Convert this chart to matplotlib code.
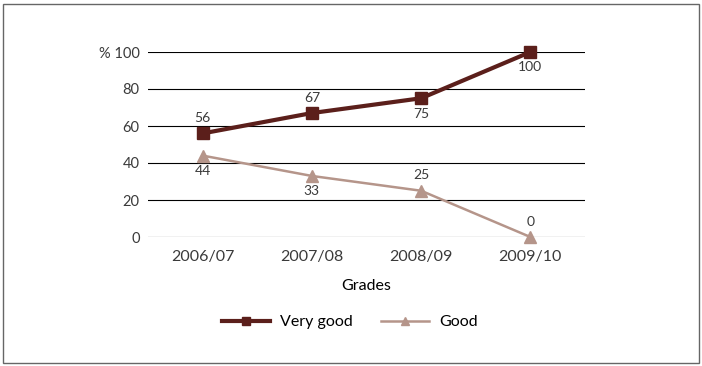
import matplotlib.pyplot as plt
from matplotlib.patches import Rectangle

# data
years = ["2006/07", "2007/08", "2008/09", "2009/10"]
very_good = [56, 67, 75, 100]
good = [44, 33, 25, 0]
# label placement: +1 above, -1 below
vg_pos = [1, 1, -1, -1]
g_pos = [-1, -1, 1, 1]

dark = "#5b1f1b"
light = "#b5958a"
txt = "#3a3a3a"

plt.rcParams['font.family'] = ['Lato', 'DejaVu Sans']

fig = plt.figure(figsize=(7.02, 3.66), dpi=100)
ax = fig.add_axes([148/702, 1-237/366, (585-148)/702, (237-52)/366])

x = list(range(len(years)))
ax.plot(x, very_good, color=dark, lw=3, marker='s', ms=8, label="Very good", clip_on=False, zorder=4)
ax.plot(x, good, color=light, lw=1.8, marker='^', ms=8, label="Good", clip_on=False, zorder=3)

for i in x:
    ax.annotate(str(very_good[i]), (i, very_good[i]), xytext=(0, 11*vg_pos[i]), textcoords='offset points',
                ha='center', va='center', fontsize=10, color=txt)
    ax.annotate(str(good[i]), (i, good[i]), xytext=(0, 11*g_pos[i]), textcoords='offset points',
                ha='center', va='center', fontsize=10, color=txt)

ax.set_xlim(-0.5, 3.5)
ax.set_ylim(0, 100)
ax.set_yticks([0, 20, 40, 60, 80, 100])
ax.set_yticklabels(["0", "20", "40", "60", "80", "% 100"])
ax.set_xticks(x)
ax.set_xticklabels(years)
ax.tick_params(length=0, labelsize=10.5, colors=txt, pad=6)
ax.tick_params(axis='x', labelsize=11.5, pad=9)
ax.grid(axis='y', color='black', lw=0.8)
ax.set_axisbelow(True)
for s in ax.spines.values():
    s.set_visible(False)
ax.set_xlabel("Grades", fontsize=11.5, color='black', labelpad=11)

ax.legend(loc='center', bbox_to_anchor=(350/702, 1-322/366), bbox_transform=fig.transFigure,
          ncol=2, frameon=False, fontsize=11.5, handlelength=3.0, handletextpad=0.6,
          columnspacing=1.8, markerscale=0.8)

fig.patches.append(Rectangle((3/702, 3/366), 696/702, 359/366, transform=fig.transFigure,
                             fill=False, edgecolor='#666666', lw=1))

fig.savefig("out.png", dpi=100)
